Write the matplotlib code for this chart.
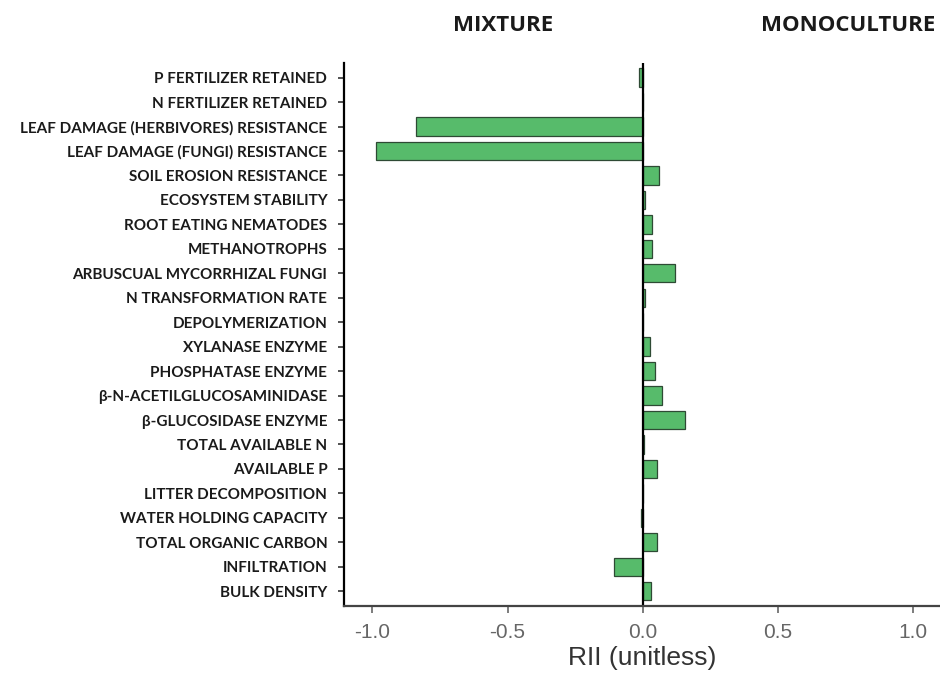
import matplotlib
matplotlib.use("Agg")
from matplotlib import pyplot as plt
import numpy as np

labels = [
    "P FERTILIZER RETAINED",
    "N FERTILIZER RETAINED",
    "LEAF DAMAGE (HERBIVORES) RESISTANCE",
    "LEAF DAMAGE (FUNGI) RESISTANCE",
    "SOIL EROSION RESISTANCE",
    "ECOSYSTEM STABILITY",
    "ROOT EATING NEMATODES",
    "METHANOTROPHS",
    "ARBUSCUAL MYCORRHIZAL FUNGI",
    "N TRANSFORMATION RATE",
    "DEPOLYMERIZATION",
    "XYLANASE ENZYME",
    "PHOSPHATASE ENZYME",
    "β-N-ACETILGLUCOSAMINIDASE",
    "β-GLUCOSIDASE ENZYME",
    "TOTAL AVAILABLE N",
    "AVAILABLE P",
    "LITTER DECOMPOSITION",
    "WATER HOLDING CAPACITY",
    "TOTAL ORGANIC CARBON",
    "INFILTRATION",
    "BULK DENSITY",
]
rii = [-0.015, 0.0, -0.84, -0.985, 0.062, 0.008, 0.035, 0.033, 0.12, 0.01,
       0.0, 0.028, 0.045, 0.073, 0.158, 0.005, 0.052, 0.0, -0.005, 0.054,
       -0.106, 0.03]
xticks = [-1.0, -0.5, 0.0, 0.5, 1.0]

fig = plt.figure(figsize=(9.4, 6.77), dpi=100)
ax = fig.add_axes([0.366, 0.105, 0.634, 0.802])

y = np.arange(len(labels))[::-1]
ax.barh(y, rii, height=0.75, color="#57bb6b", edgecolor="#2e4a34", linewidth=0.9)
ax.axvline(0, color="black", linewidth=1.6)

ax.set_xlim(-1.105, 1.1)
ax.set_ylim(-0.6, len(labels) - 0.4)
ax.set_yticks(y)
ax.set_yticklabels(labels, fontsize=11, fontweight="bold", family="Lato", color="#1a1a1a")
ax.set_xticks(xticks)
ax.set_xticklabels([f"{t:.1f}" for t in xticks], fontsize=15, family="Liberation Sans",
                   color="#666666")
ax.tick_params(axis="y", length=4, width=1.2, pad=8, color="#333333")
ax.tick_params(axis="x", length=5, width=1.2, pad=7, color="#666666")
ax.set_xlabel("RII (unitless)", fontsize=19, family="Liberation Sans", color="#333333",
              labelpad=3)

for s in ["top", "right"]:
    ax.spines[s].set_visible(False)
ax.spines["left"].set_linewidth(1.6)
ax.spines["bottom"].set_linewidth(1.6)
ax.spines["bottom"].set_color("#444444")

fig.text(0.535, 0.962, "MIXTURE", ha="center", va="center", fontsize=16,
         fontweight="bold", family="Open Sans", color="#1a1a1a")
fig.text(0.902, 0.962, "MONOCULTURE", ha="center", va="center", fontsize=16,
         fontweight="bold", family="Open Sans", color="#1a1a1a")

plt.savefig("out.png", dpi=100)
plt.close()
